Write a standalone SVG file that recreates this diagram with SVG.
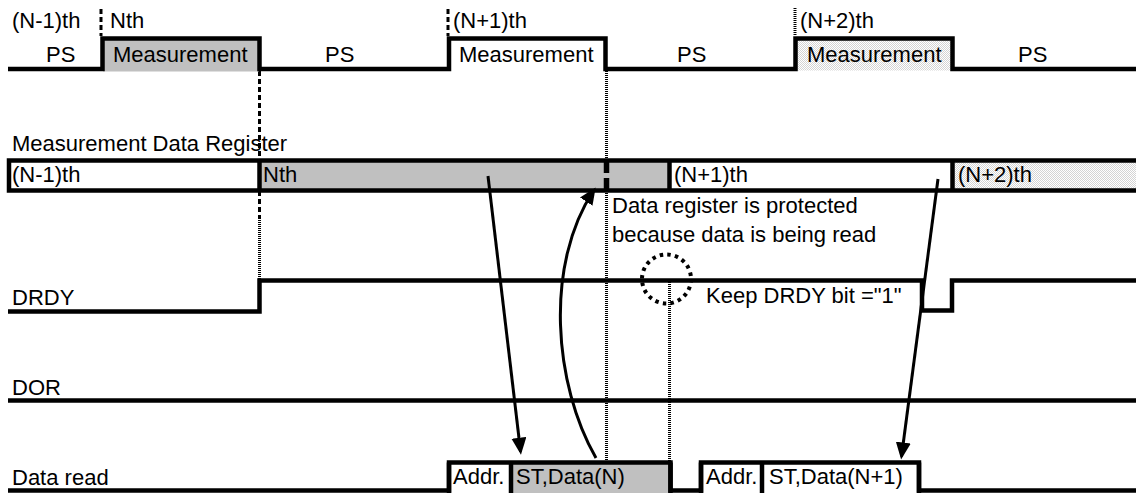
<svg xmlns="http://www.w3.org/2000/svg" width="1136" height="493" viewBox="0 0 1136 493">
<style>
text{font-family:"Liberation Sans",Arial,sans-serif;font-size:22px;fill:#000}
.sig{fill:none;stroke:#000;stroke-width:4.5;stroke-linejoin:miter}
.bar{stroke:#000;stroke-width:4.5}
.dash{stroke:#000;stroke-width:3;stroke-dasharray:5 3;fill:none}
.fdot{stroke:#000;stroke-width:3;stroke-dasharray:1 1;fill:none}
.arr{stroke:#000;stroke-width:3;fill:none}
.gray{fill:#c0c0c0}
</style>
<defs>
<pattern id="stip" width="2" height="2" patternUnits="userSpaceOnUse">
<rect width="2" height="2" fill="#fff"/>
<rect width="1" height="1" fill="#d4d4d4"/>
<rect x="1" y="1" width="1" height="1" fill="#d4d4d4"/>
</pattern>
<marker id="ah" markerUnits="userSpaceOnUse" markerWidth="18" markerHeight="16" refX="14" refY="7.5" orient="auto">
<path d="M0,0 L17,7.5 L0,15 z" fill="#000"/>
</marker>
</defs>
<rect width="1136" height="493" fill="#fff"/>

<g id="guides">
<line class="dash" x1="101" y1="9" x2="101" y2="36"/>
<line class="dash" x1="448" y1="9" x2="448" y2="36"/>
<line class="fdot" x1="795" y1="8" x2="795" y2="36"/>
<line class="dash" x1="259.5" y1="71" x2="259.5" y2="218"/>
<line class="fdot" x1="259.5" y1="218" x2="259.5" y2="279"/>
<line class="fdot" x1="606.5" y1="71" x2="606.5" y2="461"/>
<line class="fdot" x1="669.5" y1="282" x2="669.5" y2="461"/>
</g>

<g id="measurement-cycle">
<rect x="103" y="38.5" width="156" height="33" class="gray"/>
<rect x="795.5" y="38.5" width="157" height="32" fill="url(#stip)"/>
<path class="sig" d="M8,69 H102.5 V38.5 H259.5 V69 H449 V38.5 H605.5 V69 H795.5 V38.5 H952.5 V69 H1136"/>
<text x="12" y="28">(N-1)th</text>
<text x="110" y="28">Nth</text>
<text x="453" y="28">(N+1)th</text>
<text x="800" y="28">(N+2)th</text>
<text x="46" y="62">PS</text>
<text x="113" y="62">Measurement</text>
<text x="325" y="62">PS</text>
<text x="459" y="62">Measurement</text>
<text x="677" y="62">PS</text>
<text x="807" y="62">Measurement</text>
<text x="1018" y="62">PS</text>
</g>

<g id="data-register">
<text x="12" y="151">Measurement Data Register</text>
<rect x="9" y="160.5" width="250.5" height="30" fill="#fff"/>
<rect x="259.5" y="160.5" width="410" height="30" class="gray"/>
<rect x="669.5" y="160.5" width="283" height="30" fill="#fff"/>
<rect x="952.5" y="160.5" width="184" height="30" fill="url(#stip)"/>
<path class="sig" d="M1136,160.5 H9 V190.5 H1136"/>
<line class="bar" x1="259.5" y1="160.5" x2="259.5" y2="190.5"/>
<line class="bar" x1="669.5" y1="160.5" x2="669.5" y2="190.5"/>
<line class="bar" x1="952.5" y1="160.5" x2="952.5" y2="190.5"/>
<line x1="606.5" y1="160" x2="606.5" y2="173" stroke="#000" stroke-width="5.5"/>
<line x1="606.5" y1="178" x2="606.5" y2="191" stroke="#000" stroke-width="5.5"/>
<text x="12" y="182">(N-1)th</text>
<text x="263" y="182">Nth</text>
<text x="674" y="182">(N+1)th</text>
<text x="958" y="182">(N+2)th</text>
<text x="612" y="213">Data register is protected</text>
<text x="612" y="242">because data is being read</text>
</g>

<g id="drdy">
<text x="12" y="305">DRDY</text>
<path class="sig" d="M8,311.5 H259.5 V280.5 H922 V310.5 H952 V280.5 H1136"/>
<circle cx="666.5" cy="279" r="24.5" fill="none" stroke="#000" stroke-width="4" stroke-dasharray="3.5 4.2"/>
<text x="706" y="303">Keep DRDY bit ="1"</text>
</g>

<g id="dor">
<text x="12" y="395">DOR</text>
<line class="bar" x1="8" y1="400.5" x2="1136" y2="400.5"/>
</g>

<g id="data-read">
<text x="12" y="485">Data read</text>
<rect x="511" y="462.5" width="159" height="31" class="gray"/>
<path class="sig" d="M8,490.5 H449 V462.5 H670.5 V490.5 H701 V462.5 H919 V490.5 H1136"/>
<line class="bar" x1="449" y1="462.5" x2="449" y2="493"/>
<line class="bar" x1="511" y1="462.5" x2="511" y2="493"/>
<line class="bar" x1="670.5" y1="462.5" x2="670.5" y2="493"/>
<line class="bar" x1="701" y1="462.5" x2="701" y2="493"/>
<line class="bar" x1="762" y1="462.5" x2="762" y2="493"/>
<line class="bar" x1="919" y1="462.5" x2="919" y2="493"/>
<text x="453" y="484">Addr.</text>
<text x="516" y="484">ST,Data(N)</text>
<text x="706" y="484">Addr.</text>
<text x="769" y="484">ST,Data(N+1)</text>
</g>

<g id="connectors">
<line class="arr" x1="488" y1="176" x2="520.6" y2="451.7" marker-end="url(#ah)"/>
<path class="arr" d="M596,458 C554,385 544,265 594,190" marker-end="url(#ah)"/>
<line class="arr" x1="938" y1="179" x2="901.5" y2="456.5" marker-end="url(#ah)"/>
</g>
</svg>
